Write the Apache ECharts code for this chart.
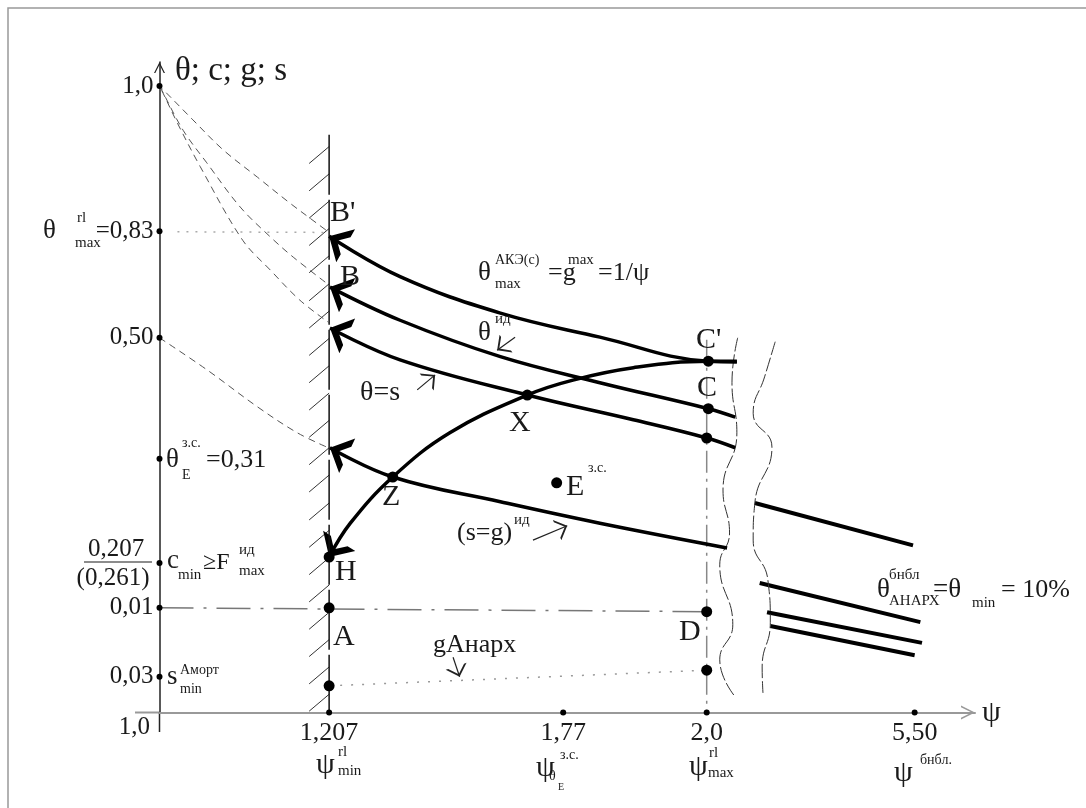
<!DOCTYPE html>
<html>
<head>
<meta charset="utf-8">
<script src="https://cdn.jsdelivr.net/npm/echarts@6/dist/echarts.min.js"></script>
<style>
html, body { margin: 0; padding: 0; background: #fff; }
#chart { width: 1086px; height: 808px; }
</style>
</head>
<body>
<div id="chart"></div>
<script>
// schematic diagram units: origin = (1,0 ; 1,0), axes are not to scale
var xTicks = [20.8, 49.5, 67.1, 92.6];
var xTickLabels = ['1,207', '1,77', '2,0', '5,50'];
var yTicks = [96.3, 74.0, 57.6, 39.0, 23.0, 16.1, 5.5];
var yTickLabels = ['1,0', '=0,83', '0,50', '', '', '0,01', '0,03'];

// thick curves, arrow tip first
var curveMax = [[20.8, 73.2], [29.5, 67.0], [41.8, 61.4], [54.0, 57.7], [67.3, 54.0], [70.8, 53.9]];
var curveId = [[20.9, 65.4], [29.5, 60.3], [41.8, 54.7], [54.0, 50.7], [67.3, 46.7], [70.6, 45.4]];
var curveS = [[20.9, 59.1], [29.5, 54.2], [45.1, 48.8], [58.1, 45.0], [67.1, 42.2], [70.6, 40.7]];
var curveSg = [[20.9, 40.7], [28.6, 36.2], [41.8, 32.4], [54.0, 29.1], [69.6, 25.3]];
var curveH = [[20.8, 23.9], [23.4, 29.1], [28.6, 36.2], [35.6, 43.0], [45.1, 48.8], [50.7, 51.1], [58.1, 53.0], [67.3, 54.0], [70.8, 54.0]];

// thin dashed curves from the 1,0 point
var dash1 = [[-2.4, 99.1], [0, 96.3], [4.1, 91.1], [7.8, 86.5], [12.0, 82.3], [16.0, 78.3], [19.3, 75.2], [20.8, 73.8]];
var dash2 = [[-1.5, 99.4], [0, 96.3], [2.9, 89.5], [5.8, 84.5], [9.9, 77.7], [13.6, 73.1], [16.4, 70.0], [20.8, 65.7]];
var dash3 = [[-1.2, 98.8], [0, 96.3], [2.2, 90.6], [5.0, 83.9], [10.2, 72.6], [13.6, 68.0], [17.2, 63.4], [20.7, 60.0]];
var dash4 = [[0, 57.6], [5.8, 52.7], [12.0, 47.0], [16.9, 43.0], [20.7, 40.7]];

// straight pieces past the break
var tailLines = [
    [[73.0, 32.2], [92.4, 25.7]],
    [[73.6, 19.9], [93.3, 13.9]],
    [[74.5, 15.4], [93.5, 10.7]],
    [[74.9, 13.3], [92.6, 8.8]]
];

// wavy break lines
var wave1 = [[70.9, 57.6], [70.2, 50.7], [70.8, 43.0], [69.1, 34.2], [69.9, 27.6], [68.7, 22.7], [70.3, 13.5], [68.7, 8.1], [70.6, 2.4]];
var wave2 = [[75.5, 57.0], [74.2, 51.6], [72.8, 46.0], [75.1, 40.8], [73.0, 32.2], [72.8, 26.5], [74.6, 20.4], [74.9, 13.8], [73.9, 7.0], [74.0, 3.0]];

// points: H, A, lower A, D, lower D, C', C, C'', X, Z, E
var nodes = [[20.8, 23.9], [20.8, 16.1], [20.8, 4.1], [67.1, 15.5], [67.1, 6.5], [67.3, 54.0], [67.3, 46.7], [67.1, 42.2], [45.1, 48.8], [28.6, 36.2], [48.7, 35.3]];

// guide lines
var wallLine = [[20.8, 88.8], [20.8, 0]];
var hatchY = [85.7, 81.5, 77.3, 73.1, 68.9, 64.6, 60.4, 56.2, 52.0, 47.8, 43.6, 39.4, 35.2, 30.9, 26.7, 22.5, 18.3, 14.1, 9.9, 5.7, 1.5];
var maxLine = [[67.1, 57.3], [67.1, 0]];
var levelLine = [[0, 16.1], [67.1, 15.5]];
var lineB = [[2.2, 73.9], [20.5, 73.8]];
var anarchLine = [[20.8, 4.1], [67.1, 6.5]];

// small pointer arrows next to the curve names
var pointers = [
    [[43.6, 57.7], [41.4, 55.7]],
    [[31.6, 49.6], [33.8, 51.9]],
    [[45.8, 26.5], [50.0, 28.7]],
    [[36.0, 8.5], [36.8, 5.5]]
];

var FONT = '"Liberation Serif", "Times New Roman", serif';
var INK = '#1a1a1a';
// chevron with its tip in the middle of the box
var ARROW = 'path://M5,-10L5.001,-10Z M0,10L5,0L10,10L7.6,10L5,4.8L2.4,10Z';
var ARROW_THIN = 'path://M5,-10L5.001,-10Z M0,10L5,0L10,10L8.8,10L5,2.4L1.2,10Z';

// text notes: text, left x, middle y, font size, align
var notes = [
    ['θ; c; g; s', 175, 71, 33],
    ['θ', 43, 231, 27], ['rl', 77, 218, 15], ['max', 75, 243, 15],
    ['θ', 166, 460, 27], ['з.с.', 182, 443, 14], ['E', 182, 475, 14], ['=0,31', 206, 460, 26],
    ['0,207', 116, 549, 25, 'center'], ['(0,261)', 113, 578, 25, 'center'],
    ['c', 167, 561, 27], ['min', 178, 575, 15], ['≥F', 203, 563, 24], ['ид', 239, 550, 15], ['max', 239, 571, 15],
    ['s', 167, 677, 27], ['Аморт', 180, 670, 14], ['min', 180, 689, 14],
    ['1,0', 150, 727, 25, 'right'],
    ['ψ', 316, 765, 30], ['rl', 338, 752, 15], ['min', 338, 771, 15],
    ['ψ', 536, 768, 30], ['з.с.', 560, 755, 14], ['θ', 549, 776, 14], ['E', 558, 787, 10],
    ['ψ', 689, 767, 30], ['rl', 709, 753, 15], ['max', 708, 773, 15],
    ['ψ', 894, 773, 30], ['бнбл.', 920, 760, 14],
    ['ψ', 982, 713, 30],
    ["B'", 330, 213, 30], ['B', 340, 277, 30], ["C'", 696, 340, 30], ['C', 697, 388, 30],
    ['X', 509, 423, 30], ['Z', 382, 497, 30], ['H', 335, 572, 30], ['A', 333, 637, 30],
    ['D', 679, 632, 30], ['E', 566, 487, 30], ['з.с.', 588, 468, 14],
    ['θ', 478, 273, 27], ['АКЭ(с)', 495, 260, 14], ['max', 495, 284, 15], ['=g', 548, 273, 26], ['max', 568, 260, 15], ['=1/ψ', 598, 273, 26],
    ['θ', 478, 333, 27], ['ид', 495, 319, 15],
    ['θ=s', 360, 393, 28],
    ['(s=g)', 457, 533, 26], ['ид', 514, 520, 15],
    ['gАнарх', 433, 645, 26],
    ['θ', 877, 590, 27], ['бнбл', 889, 575, 15], ['АНАРХ', 889, 601, 15], ['=θ', 933, 590, 27], ['min', 972, 603, 15], ['= 10%', 1001, 590, 26]
];

function note(n) {
    var a = n[4] || 'left';
    return {
        type: 'text', x: n[1], y: n[2], silent: true, z: 20,
        style: {
            text: n[0], fill: INK, font: n[3] + 'px ' + FONT,
            textAlign: a, textVerticalAlign: 'middle', align: a, verticalAlign: 'middle'
        }
    };
}

function thinLine(data, color, width, type) {
    return {
        type: 'line', data: data, symbol: 'none', silent: true,
        lineStyle: { color: color, width: width, type: type }
    };
}

function thickCurve(data) {
    return {
        type: 'line', data: data, symbol: 'none', silent: true, smooth: 0.4,
        lineStyle: { color: '#000', width: 3.5 }
    };
}

function dashCurve(data) {
    return {
        type: 'line', data: data, symbol: 'none', silent: true, smooth: 0.35, clip: false,
        lineStyle: { color: '#555', width: 1, type: [7, 5] }
    };
}

function waveCurve(data) {
    return {
        type: 'line', data: data, symbol: 'none', silent: true, smooth: 0.5,
        lineStyle: { color: '#333', width: 1, type: [14, 3] }
    };
}

var tipSeg = [curveMax, curveId, curveS, curveSg, curveH].map(function (c) {
    return { coords: [c[1], c[0]] };
});

var chart = echarts.init(document.getElementById('chart'));

var option = {
    animation: false,
    backgroundColor: '#fff',
    grid: { left: 159.5, top: 62, width: 815.5, height: 650.5, outerBoundsMode: 'none' },
    xAxis: {
        type: 'value', min: 0, max: 100,
        splitLine: { show: false },
        axisTick: { show: false },
        axisLine: {
            lineStyle: { color: '#999', width: 2 },
            symbol: ['none', ARROW_THIN], symbolSize: [14, 30]
        },
        axisLabel: {
            customValues: xTicks, margin: 8,
            color: INK, fontSize: 26, fontFamily: FONT,
            formatter: function (v) { return xTickLabels[xTicks.indexOf(v)]; }
        }
    },
    yAxis: {
        type: 'value', min: 0, max: 100,
        splitLine: { show: false },
        axisTick: { show: false },
        axisLine: {
            lineStyle: { color: '#222', width: 1.5 },
            symbol: ['none', ARROW_THIN], symbolSize: [11, 26]
        },
        axisLabel: {
            customValues: yTicks, margin: 6,
            color: INK, fontSize: 25, fontFamily: FONT,
            formatter: function (v) { return yTickLabels[yTicks.indexOf(v)]; }
        }
    },
    graphic: {
        elements: [
            { type: 'rect', silent: true, z: -1, shape: { x: 8, y: 8, width: 1100, height: 820 }, style: { fill: 'none', stroke: '#999', lineWidth: 1.5 } },
            { type: 'line', silent: true, shape: { x1: 84, y1: 562, x2: 152, y2: 562 }, style: { stroke: INK, lineWidth: 1.2 } },
            // axis stubs past the origin
            { type: 'line', silent: true, shape: { x1: 135, y1: 712.5, x2: 159.5, y2: 712.5 }, style: { stroke: '#999', lineWidth: 2 } },
            { type: 'line', silent: true, shape: { x1: 159.5, y1: 712.5, x2: 159.5, y2: 732 }, style: { stroke: '#222', lineWidth: 1.5 } }
        ].concat(notes.map(note))
    },
    series: [
        dashCurve(dash1), dashCurve(dash2), dashCurve(dash3), dashCurve(dash4),
        thinLine(wallLine, '#111', 1.5, [60, 5]),
        {
            type: 'lines', coordinateSystem: 'cartesian2d', silent: true,
            data: hatchY.map(function (y) { return { coords: [[18.35, y - 1.3], [20.8, y + 1.3]] }; }),
            lineStyle: { color: '#333', width: 1, opacity: 1 }
        },
        thinLine(maxLine, '#888', 1.5, [22, 6, 3, 6]),
        thinLine(levelLine, '#777', 1.5, [34, 10, 3, 10]),
        thinLine(lineB, '#aaa', 1.5, [2, 7]),
        thinLine(anarchLine, '#999', 1.5, [2, 9]),
        waveCurve(wave1), waveCurve(wave2),
        thickCurve(curveMax), thickCurve(curveId), thickCurve(curveS), thickCurve(curveSg), thickCurve(curveH),
        {
            type: 'lines', coordinateSystem: 'cartesian2d', silent: true,
            data: tipSeg,
            symbol: ['none', ARROW], symbolSize: [17, 38],
            lineStyle: { color: '#000', width: 0, opacity: 1 }
        },
        {
            type: 'lines', coordinateSystem: 'cartesian2d', silent: true,
            data: tailLines.map(function (c) { return { coords: c }; }),
            lineStyle: { color: '#000', width: 4, opacity: 1 }
        },
        {
            type: 'lines', coordinateSystem: 'cartesian2d', silent: true,
            data: pointers.map(function (c) { return { coords: c }; }),
            symbol: ['none', ARROW_THIN], symbolSize: [9, 22],
            lineStyle: { color: '#222', width: 1.2, opacity: 1 }
        },
        {
            type: 'scatter', silent: true, symbolSize: 11, z: 6,
            data: nodes, itemStyle: { color: '#000', opacity: 1 }
        },
        {
            type: 'scatter', silent: true, symbolSize: 6, z: 5,
            data: yTicks.map(function (v) { return [0, v]; }).concat(xTicks.map(function (v) { return [v, 0]; })),
            itemStyle: { color: '#000', opacity: 1 }
        }
    ]
};

chart.setOption(option);
</script>
</body>
</html>
